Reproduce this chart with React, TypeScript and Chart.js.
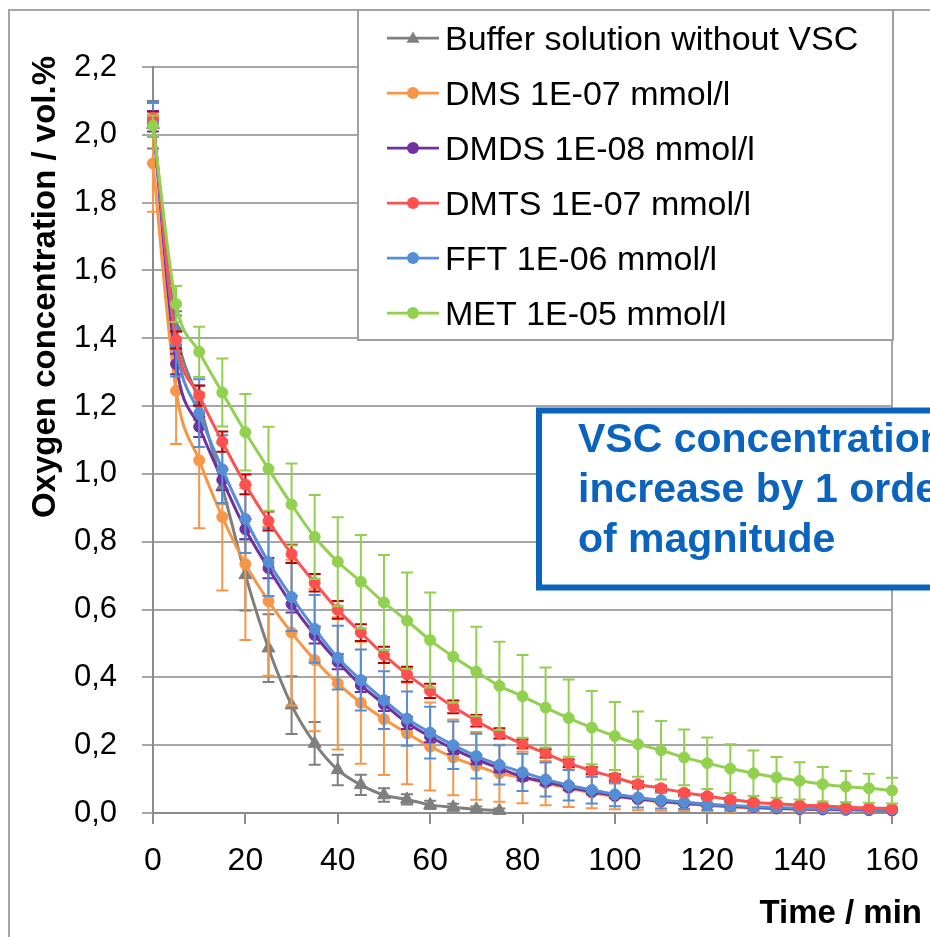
import React, { useEffect, useRef } from 'react';
import { Chart, registerables } from 'chart.js';

Chart.register(...registerables);

// ---------- data ----------
const times = [0, 5, 10, 15, 20, 25, 30, 35, 40, 45, 50, 55, 60, 65, 70, 75, 80, 85, 90, 95, 100, 105, 110, 115, 120, 125, 130, 135, 140, 145, 150, 155, 160];

const bufferValues = [2.03, 1.43, 1.21, 0.962, 0.702, 0.486, 0.318, 0.205, 0.127, 0.083, 0.053, 0.04, 0.024, 0.017, 0.011, 0.007];
const bufferErrors = [0.07, 0.05, 0.05, 0.05, 0.105, 0.1, 0.085, 0.063, 0.045, 0.03, 0.02, 0.015, 0.012, 0.01, 0.008, 0.006];

const dmsValues = [1.916, 1.245, 1.04, 0.873, 0.734, 0.625, 0.532, 0.451, 0.382, 0.325, 0.277, 0.235, 0.196, 0.164, 0.139, 0.117, 0.105, 0.088, 0.073, 0.06, 0.049, 0.04, 0.033, 0.027, 0.022, 0.018, 0.015, 0.013, 0.011, 0.01, 0.009, 0.008, 0.007];
const dmsErrors = [0.143, 0.157, 0.2, 0.217, 0.224, 0.22, 0.215, 0.21, 0.195, 0.18, 0.165, 0.15, 0.13, 0.112, 0.1, 0.084, 0.076, 0.065, 0.055, 0.046, 0.038, 0.032, 0.026, 0.021, 0.017, 0.014, 0.011, 0.009, 0.008, 0.007, 0.006, 0.005, 0.005];

const dmdsValues = [2.04, 1.324, 1.139, 0.982, 0.837, 0.722, 0.616, 0.525, 0.446, 0.377, 0.321, 0.266, 0.225, 0.189, 0.158, 0.132, 0.107, 0.092, 0.076, 0.063, 0.051, 0.042, 0.035, 0.029, 0.024, 0.02, 0.017, 0.014, 0.012, 0.011, 0.01, 0.009, 0.008];
const dmdsErrors = [0.03, 0.03, 0.03, 0.03, 0.03, 0.03, 0.025, 0.025, 0.022, 0.02, 0.02, 0.018, 0.016, 0.015, 0.014, 0.012, 0.011, 0.01, 0.009, 0.008, 0.007, 0.006, 0.005, 0.005, 0.004, 0.004, 0.003, 0.003, 0.003, 0.002, 0.002, 0.002, 0.002];

const dmtsValues = [2.05, 1.395, 1.231, 1.095, 0.969, 0.861, 0.764, 0.679, 0.599, 0.532, 0.466, 0.409, 0.36, 0.313, 0.272, 0.235, 0.204, 0.176, 0.147, 0.125, 0.105, 0.085, 0.073, 0.06, 0.05, 0.04, 0.032, 0.027, 0.023, 0.021, 0.017, 0.015, 0.013];
const dmtsErrors = [0.018, 0.025, 0.03, 0.03, 0.029, 0.028, 0.027, 0.026, 0.026, 0.025, 0.024, 0.022, 0.021, 0.019, 0.017, 0.015, 0.013, 0.012, 0.011, 0.01, 0.009, 0.008, 0.007, 0.006, 0.005, 0.005, 0.004, 0.004, 0.003, 0.003, 0.003, 0.002, 0.002];

const fftValues = [2.044, 1.377, 1.179, 1.014, 0.867, 0.74, 0.637, 0.543, 0.458, 0.392, 0.333, 0.278, 0.237, 0.2, 0.168, 0.142, 0.12, 0.099, 0.082, 0.068, 0.055, 0.046, 0.038, 0.032, 0.026, 0.022, 0.019, 0.016, 0.014, 0.013, 0.012, 0.011, 0.01];
const fftErrors = [0.05, 0.09, 0.1, 0.1, 0.1, 0.1, 0.1, 0.1, 0.094, 0.09, 0.085, 0.08, 0.076, 0.07, 0.066, 0.058, 0.055, 0.05, 0.045, 0.04, 0.035, 0.03, 0.025, 0.02, 0.017, 0.014, 0.012, 0.01, 0.008, 0.007, 0.006, 0.005, 0.005];

const metValues = [2.027, 1.501, 1.36, 1.24, 1.123, 1.015, 0.91, 0.814, 0.741, 0.682, 0.621, 0.567, 0.51, 0.461, 0.417, 0.375, 0.344, 0.311, 0.28, 0.252, 0.227, 0.203, 0.185, 0.164, 0.147, 0.131, 0.117, 0.105, 0.095, 0.085, 0.078, 0.073, 0.066];
const metErrors = [0.03, 0.053, 0.074, 0.1, 0.113, 0.124, 0.121, 0.124, 0.131, 0.138, 0.14, 0.142, 0.14, 0.136, 0.132, 0.13, 0.122, 0.118, 0.114, 0.108, 0.1, 0.096, 0.086, 0.082, 0.076, 0.072, 0.067, 0.06, 0.055, 0.051, 0.046, 0.043, 0.038];

const seriesNames = ['Buffer solution without VSC', 'DMS 1E-07 mmol/l', 'DMDS 1E-08 mmol/l', 'DMTS 1E-07 mmol/l', 'FFT 1E-06 mmol/l', 'MET 1E-05 mmol/l'];
const seriesValues = [bufferValues, dmsValues, dmdsValues, dmtsValues, fftValues, metValues];
const seriesErrors = [bufferErrors, dmsErrors, dmdsErrors, dmtsErrors, fftErrors, metErrors];
const seriesColors = ['#7F7F7F', '#F79646', '#7030A0', '#FF5050', '#558ED5', '#92D050'];
const errorColors = ['#7F7F7F', '#F79646', '#7030A0', '#C00000', '#558ED5', '#92D050'];
const seriesMarkers = ['triangle', 'circle', 'circle', 'circle', 'circle', 'circle'];
const seriesDrawOrder = [5, 4, 3, 1, 2, 0];

const X_MIN = 0;
const X_MAX = 160;
const X_STEP = 20;
const Y_MIN = 0;
const Y_MAX = 2.2;
const Y_STEP = 0.2;

const xTitle = 'Time / min';
const yTitle = 'Oxygen concentration / vol.%';
const noteLines = ['VSC concentration', 'increase by 1 order', 'of magnitude'];

// ---------- styling ----------
const FONT = '"Liberation Sans", Arial, sans-serif';
const GRID = '#A6A6A6';
const AXIS = '#8C8C8C';
const NOTE_BLUE = '#0A64BE';

function drawMarker(ctx: CanvasRenderingContext2D, style: string, x: number, y: number, r: number, color: string) {
  ctx.fillStyle = color;
  ctx.beginPath();
  if (style === 'triangle') {
    ctx.moveTo(x, y - r);
    ctx.lineTo(x + r * 0.866, y + r * 0.5);
    ctx.lineTo(x - r * 0.866, y + r * 0.5);
    ctx.closePath();
  } else {
    ctx.arc(x, y, r, 0, Math.PI * 2);
  }
  ctx.fill();
}

const errorBarPlugin = {
  id: 'errorBars',
  beforeDatasetDraw(chart: any, args: any) {
    const errs = seriesErrors[args.index];
    if (!errs) return;
    const ys = chart.scales.y;
    const ctx = chart.ctx as CanvasRenderingContext2D;
    const vals = seriesValues[args.index];
    ctx.save();
    ctx.strokeStyle = errorColors[args.index];
    ctx.lineWidth = 2;
    args.meta.data.forEach((pt: any, i: number) => {
      const v = vals[i];
      const e = errs[i];
      const x = pt.x;
      const yt = ys.getPixelForValue(v + e);
      const yb = ys.getPixelForValue(Math.max(v - e, 0));
      ctx.beginPath();
      ctx.moveTo(x, yt);
      ctx.lineTo(x, yb);
      ctx.moveTo(x - 6, yt);
      ctx.lineTo(x + 6, yt);
      ctx.moveTo(x - 6, yb);
      ctx.lineTo(x + 6, yb);
      ctx.stroke();
    });
    ctx.restore();
  },
};

const decorPlugin = {
  id: 'decor',
  beforeDatasetsDraw(chart: any) {
    const ctx = chart.ctx as CanvasRenderingContext2D;
    const a = chart.chartArea;
    ctx.save();
    ctx.strokeStyle = GRID;
    ctx.lineWidth = 2;
    ctx.beginPath();
    ctx.moveTo(a.right, a.top);
    ctx.lineTo(a.right, a.bottom);
    ctx.stroke();
    ctx.restore();
  },
  afterDraw(chart: any) {
    const ctx = chart.ctx as CanvasRenderingContext2D;
    const a = chart.chartArea;
    ctx.save();

    // outer chart border
    ctx.strokeStyle = '#A6A6A6';
    ctx.lineWidth = 2;
    ctx.beginPath();
    ctx.moveTo(9, 937);
    ctx.lineTo(9, 10);
    ctx.lineTo(930, 10);
    ctx.stroke();

    // legend
    const lx = 358, ly = 10, lw = a.right + 1 - 358, lh = 330;
    ctx.fillStyle = '#FFFFFF';
    ctx.fillRect(lx, ly, lw, lh);
    ctx.strokeStyle = '#A0A0A0';
    ctx.lineWidth = 2;
    ctx.strokeRect(lx, ly, lw, lh);
    seriesNames.forEach((name, i) => {
      const cy = 38 + 55 * i;
      ctx.strokeStyle = seriesColors[i];
      ctx.lineWidth = 2.75;
      ctx.beginPath();
      ctx.moveTo(387, cy);
      ctx.lineTo(439, cy);
      ctx.stroke();
      drawMarker(ctx, seriesMarkers[i], 413, seriesMarkers[i] === 'triangle' ? cy + 1 : cy, seriesMarkers[i] === 'triangle' ? 7.5 : 6, seriesColors[i]);
      ctx.fillStyle = '#000';
      ctx.font = `34px ${FONT}`;
      ctx.textAlign = 'left';
      ctx.textBaseline = 'alphabetic';
      ctx.fillText(name, 445, cy + 12);
    });

    // annotation box
    ctx.fillStyle = '#FFFFFF';
    ctx.fillRect(539, 410.5, 420, 177);
    ctx.strokeStyle = NOTE_BLUE;
    ctx.lineWidth = 6;
    ctx.strokeRect(539, 410.5, 420, 177);
    ctx.fillStyle = NOTE_BLUE;
    ctx.font = `bold 41px ${FONT}`;
    ctx.textAlign = 'left';
    noteLines.forEach((t, i) => {
      ctx.fillText(t, 578, 452 + 50 * i);
    });

    // axis titles
    ctx.fillStyle = '#000';
    ctx.font = `bold 33px ${FONT}`;
    ctx.textAlign = 'right';
    ctx.fillText(xTitle, 922, 923);

    ctx.translate(55, 287);
    ctx.rotate(-Math.PI / 2);
    ctx.textAlign = 'center';
    ctx.fillText(yTitle, 0, 0);
    ctx.restore();
  },
};

export default function App() {
  const ref = useRef<HTMLCanvasElement | null>(null);

  useEffect(() => {
    document.body.style.margin = '0';
    const canvas = ref.current;
    if (!canvas) return;

    const datasets = seriesNames.map((name, i) => ({
      label: name,
      data: seriesValues[i].map((v, j) => ({ x: times[j], y: v })),
      borderColor: seriesColors[i],
      backgroundColor: seriesColors[i],
      pointBackgroundColor: seriesColors[i],
      pointBorderColor: seriesColors[i],
      pointBorderWidth: 1,
      pointStyle: seriesMarkers[i],
      pointRadius: seriesMarkers[i] === 'triangle' ? 7.5 : 5.5,
      borderWidth: 3,
      cubicInterpolationMode: 'monotone' as const,
      fill: false,
      clip: false as any,
      order: seriesDrawOrder[i],
    }));

    const chart = new Chart(canvas, {
      type: 'line',
      data: { datasets },
      plugins: [errorBarPlugin, decorPlugin],
      options: {
        animation: false,
        responsive: false,
        devicePixelRatio: 1,
        layout: { padding: { left: 0, right: 38, top: 67, bottom: 0 } },
        plugins: {
          legend: { display: false },
          tooltip: { enabled: false },
          title: { display: false },
        },
        scales: {
          x: {
            type: 'linear',
            min: X_MIN,
            max: X_MAX,
            afterFit: (s: any) => {
              s.height = 124;
              s.paddingLeft = 0;
              s.paddingRight = 0;
            },
            ticks: {
              stepSize: X_STEP,
              color: '#000',
              font: { family: FONT, size: 32 },
              padding: 18,
              maxRotation: 0,
              autoSkip: false,
            },
            grid: {
              drawOnChartArea: false,
              drawTicks: true,
              tickLength: 11,
              color: AXIS,
              lineWidth: 2,
            },
            border: { display: true, color: AXIS, width: 2 },
          },
          y: {
            type: 'linear',
            min: Y_MIN,
            max: Y_MAX,
            afterFit: (s: any) => {
              s.width = 153;
              s.paddingTop = 0;
              s.paddingBottom = 0;
            },
            ticks: {
              stepSize: Y_STEP,
              color: '#000',
              font: { family: FONT, size: 31 },
              padding: 25,
              callback: (v: any) => Number(v).toFixed(1).replace('.', ','),
            },
            grid: {
              drawTicks: true,
              tickLength: 11,
              color: GRID,
              lineWidth: 2,
            },
            border: { display: true, color: AXIS, width: 2 },
          },
        },
      },
    });

    return () => chart.destroy();
  }, []);

  return (
    <div style={{ position: 'absolute', left: 0, top: 0, width: 930, height: 937, background: '#fff' }}>
      <canvas ref={ref} width={930} height={937} style={{ display: 'block' }} />
    </div>
  );
}
